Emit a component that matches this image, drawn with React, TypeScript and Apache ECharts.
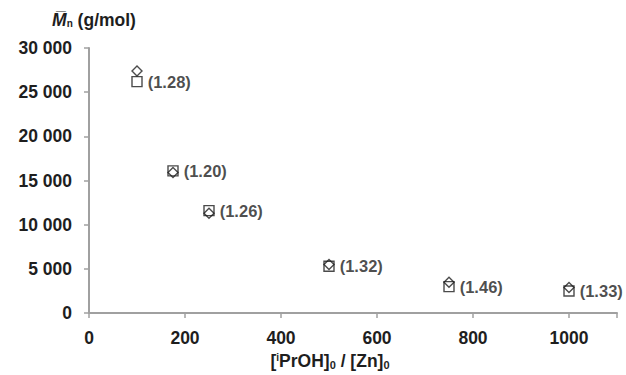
import React, { useEffect, useRef } from "react";
import * as echarts from "echarts";

const ratios = [100, 175, 250, 500, 750, 1000];
const mnSec = [26200, 16100, 11600, 5300, 3000, 2500];
const mnTheo = [27400, 15900, 11300, 5500, 3500, 2900];
const dispersity = ["1.28", "1.20", "1.26", "1.32", "1.46", "1.33"];
const yTicks = [0, 5000, 10000, 15000, 20000, 25000, 30000];
const xTicks = [0, 200, 400, 600, 800, 1000];

const fmtThousands = (v: number) =>
  String(v).replace(/\B(?=(\d{3})+(?!\d))/g, " ");

export default function App() {
  const ref = useRef<HTMLDivElement>(null);
  useEffect(() => {
    if (!ref.current) return;
    const chart = echarts.init(ref.current, undefined, { renderer: "svg" });
    const font = "Liberation Sans, Arial, sans-serif";
    const col = "#1e1e1e";
    chart.setOption({
      animation: false,
      backgroundColor: "#fff",
      grid: { left: 89, right: 9, top: 48, bottom: 57 },
      xAxis: {
        type: "value",
        min: 0,
        max: 1100,
        interval: 200,
        name: "{b|[}{sup|i}{b|PrOH]}{sub|0}{b| / [Zn]}{sub|0}",
        nameLocation: "middle",
        nameGap: 44,
        nameTextStyle: {
          padding: [0, 46, 0, 0],
          verticalAlign: "middle",
          rich: {
            b: { fontFamily: font, fontWeight: "bold", fontSize: 17.5, color: col, verticalAlign: "middle" },
            sup: { fontFamily: font, fontWeight: "bold", fontSize: 10, color: col, verticalAlign: "top" },
            sub: { fontFamily: font, fontWeight: "bold", fontSize: 11, color: col, verticalAlign: "bottom" },
          },
        },
        axisLine: { lineStyle: { color: "#a0a0a0", width: 2 } },
        axisTick: { show: true, length: 5, lineStyle: { color: "#a0a0a0", width: 1.5 } },
        splitLine: { show: false },
        axisLabel: {
          margin: 16,
          fontFamily: font,
          fontWeight: "bold",
          fontSize: 17.5,
          color: col,
          formatter: (v: number) => (xTicks.includes(v) ? String(v) : ""),
        },
      },
      yAxis: {
        type: "value",
        min: 0,
        max: 30000,
        interval: 5000,
        name: "{m|M\u0305}{sub|n}{b| (g/mol)}",
        nameLocation: "end",
        nameGap: 19,
        nameTextStyle: {
          align: "center",
          padding: [0, 0, 0, 10],
          rich: {
            m: { fontFamily: font, fontWeight: "bold", fontStyle: "italic", fontSize: 17.5, color: col, lineHeight: 18 },
            b: { fontFamily: font, fontWeight: "bold", fontSize: 17.5, color: col, lineHeight: 18 },
            sub: { fontFamily: font, fontWeight: "bold", fontSize: 10, color: col, lineHeight: 18, padding: [6, 0, 0, 0] },
          },
        },
        axisLine: { show: true, lineStyle: { color: "#a0a0a0", width: 2 } },
        axisTick: { show: true, length: 5, lineStyle: { color: "#a0a0a0", width: 1.5 } },
        splitLine: { show: false },
        axisLabel: {
          margin: 17,
          fontFamily: font,
          fontWeight: "bold",
          fontSize: 17.5,
          color: col,
          formatter: (v: number) => (yTicks.includes(v) ? fmtThousands(v) : ""),
        },
      },
      series: [
        {
          type: "scatter",
          name: "SEC",
          symbol: "rect",
          symbolSize: 10,
          data: ratios.map((x, i) => [x, mnSec[i]]),
          itemStyle: { color: "rgba(0,0,0,0)", borderColor: col, borderWidth: 1.4 },
          label: {
            show: true,
            position: "right",
            distance: 5,
            fontFamily: font,
            fontWeight: "bold",
            fontSize: 16.5,
            color: col,
            formatter: (p: any) => "(" + dispersity[p.dataIndex] + ")",
          },
          z: 2,
        },
        {
          type: "scatter",
          name: "Theory",
          symbol: "diamond",
          symbolSize: 10,
          data: ratios.map((x, i) => [x, mnTheo[i]]),
          itemStyle: { color: "rgba(0,0,0,0)", borderColor: col, borderWidth: 1.4 },
          z: 3,
        },
      ],
    });
    return () => chart.dispose();
  }, []);
  return (
    <div
      ref={ref}
      style={{ position: "absolute", left: 0, top: 0, width: 626, height: 375 }}
    />
  );
}
